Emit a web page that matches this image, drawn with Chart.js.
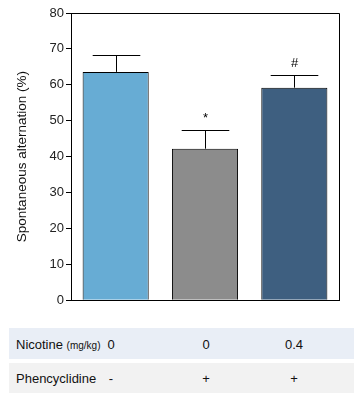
<!DOCTYPE html>
<html>
<head>
<meta charset="utf-8">
<script src="https://cdn.jsdelivr.net/npm/chart.js@4/dist/chart.umd.min.js"></script>
<style>
  body { margin: 0; background: #fff; font-family: "Liberation Sans", Arial, sans-serif; }
  #wrap { position: relative; width: 362px; height: 419px; }
  #chart-box { position: absolute; left: 0; top: 0; width: 362px; height: 310px; }
  .row { position: absolute; left: 9px; width: 345px; font-size: 13px; color: #111; }
  .row span { position: absolute; top: 50%; transform: translate(-50%, -50%); white-space: nowrap; }
  .row .lbl { left: 7px; transform: translate(0, -50%); }
  .small { font-size: 10px; }
</style>
</head>
<body>
<div id="wrap">
  <div id="chart-box"><canvas id="myChart"></canvas></div>
  <div class="row" id="row1" style="top:328px;height:31px;background:#e9eef6;"></div>
  <div class="row" id="row2" style="top:363px;height:30px;background:#f2f2f2;"></div>
</div>
<script>
// data
var groups = ['Control', 'PCP', 'PCP + Nicotine'];
var meanValues = [63.6, 42.2, 59.2];
var semValues = [4.7, 5.3, 3.6];
var marks = ['', '*', '#'];
var barColors = ['#67acd4', '#8c8c8c', '#3e5f80'];
var nicotineDose = ['0', '0', '0.4'];
var pcpGiven = ['-', '+', '+'];
var yTicksMax = 80;

// table under chart
var colCenters = [102, 197, 285];
function fillRow(id, label, vals) {
    var row = document.getElementById(id);
    var l = document.createElement('span');
    l.className = 'lbl';
    l.innerHTML = label;
    row.appendChild(l);
    vals.forEach(function(v, i) {
        var s = document.createElement('span');
        s.textContent = v;
        s.style.left = colCenters[i] + 'px';
        row.appendChild(s);
    });
}
fillRow('row1', 'Nicotine <span class="small" style="position:static;transform:none">(mg/kg)</span>', nicotineDose);
fillRow('row2', 'Phencyclidine', pcpGiven);

// error bars, significance marks and box frame
var errorBars = {
    id: 'errorBars',
    afterDatasetsDraw: function(chart) {
        var ctx = chart.ctx;
        var yScale = chart.scales.y;
        var meta = chart.getDatasetMeta(0);
        ctx.save();
        ctx.strokeStyle = '#000';
        ctx.lineWidth = 1;
        meta.data.forEach(function(bar, i) {
            var x = Math.round(bar.x) + 0.5;
            var yBar = yScale.getPixelForValue(meanValues[i]);
            var yTop = Math.round(yScale.getPixelForValue(meanValues[i] + semValues[i])) + 0.5;
            var half = bar.width * 0.36;
            ctx.beginPath();
            ctx.moveTo(x, yBar);
            ctx.lineTo(x, yTop);
            ctx.moveTo(x - half, yTop);
            ctx.lineTo(x + half, yTop);
            ctx.stroke();
            if (marks[i]) {
                ctx.fillStyle = '#000';
                ctx.font = '13px "Liberation Sans", Arial';
                ctx.textAlign = 'center';
                ctx.textBaseline = 'middle';
                ctx.fillText(marks[i], x, yTop - 12);
            }
        });
        var a = chart.chartArea;
        ctx.beginPath();
        ctx.moveTo(a.left, Math.round(a.top) + 0.5);
        ctx.lineTo(Math.round(a.right) + 0.5, Math.round(a.top) + 0.5);
        ctx.lineTo(Math.round(a.right) + 0.5, a.bottom);
        ctx.stroke();
        ctx.restore();
    }
};

var ctx = document.getElementById('myChart').getContext('2d');
var myChart = new Chart(ctx, {
    type: 'bar',
    data: {
        labels: groups,
        datasets: [{
            data: meanValues,
            backgroundColor: barColors,
            borderColor: '#000',
            borderWidth: 1,
            barPercentage: 0.74,
            categoryPercentage: 1
        }]
    },
    options: {
        responsive: true,
        maintainAspectRatio: false,
        animation: false,
        layout: { padding: { left: 0, top: 13, right: 23, bottom: 0 } },
        plugins: {
            legend: { display: false },
            tooltip: { enabled: false }
        },
        scales: {
            x: {
                grid: { display: false },
                border: { display: true, color: '#000', width: 1 },
                ticks: { display: false },
                afterFit: function(s) { s.height = 9; }
            },
            y: {
                min: 0,
                max: yTicksMax,
                ticks: {
                    stepSize: 10,
                    color: '#222',
                    padding: 2,
                    font: { family: '"Liberation Sans", Arial', size: 13 }
                },
                grid: { drawOnChartArea: false, drawTicks: true, tickLength: 5, color: '#000' },
                border: { display: true, color: '#000', width: 1 },
                title: {
                    display: true,
                    text: 'Spontaneous alternation (%)',
                    color: '#111',
                    font: { family: '"Liberation Sans", Arial', size: 13.5 },
                    padding: { top: 14, bottom: 0 }
                },
                afterFit: function(s) { s.width = 71; }
            }
        }
    },
    plugins: [errorBars]
});
</script>
</body>
</html>
